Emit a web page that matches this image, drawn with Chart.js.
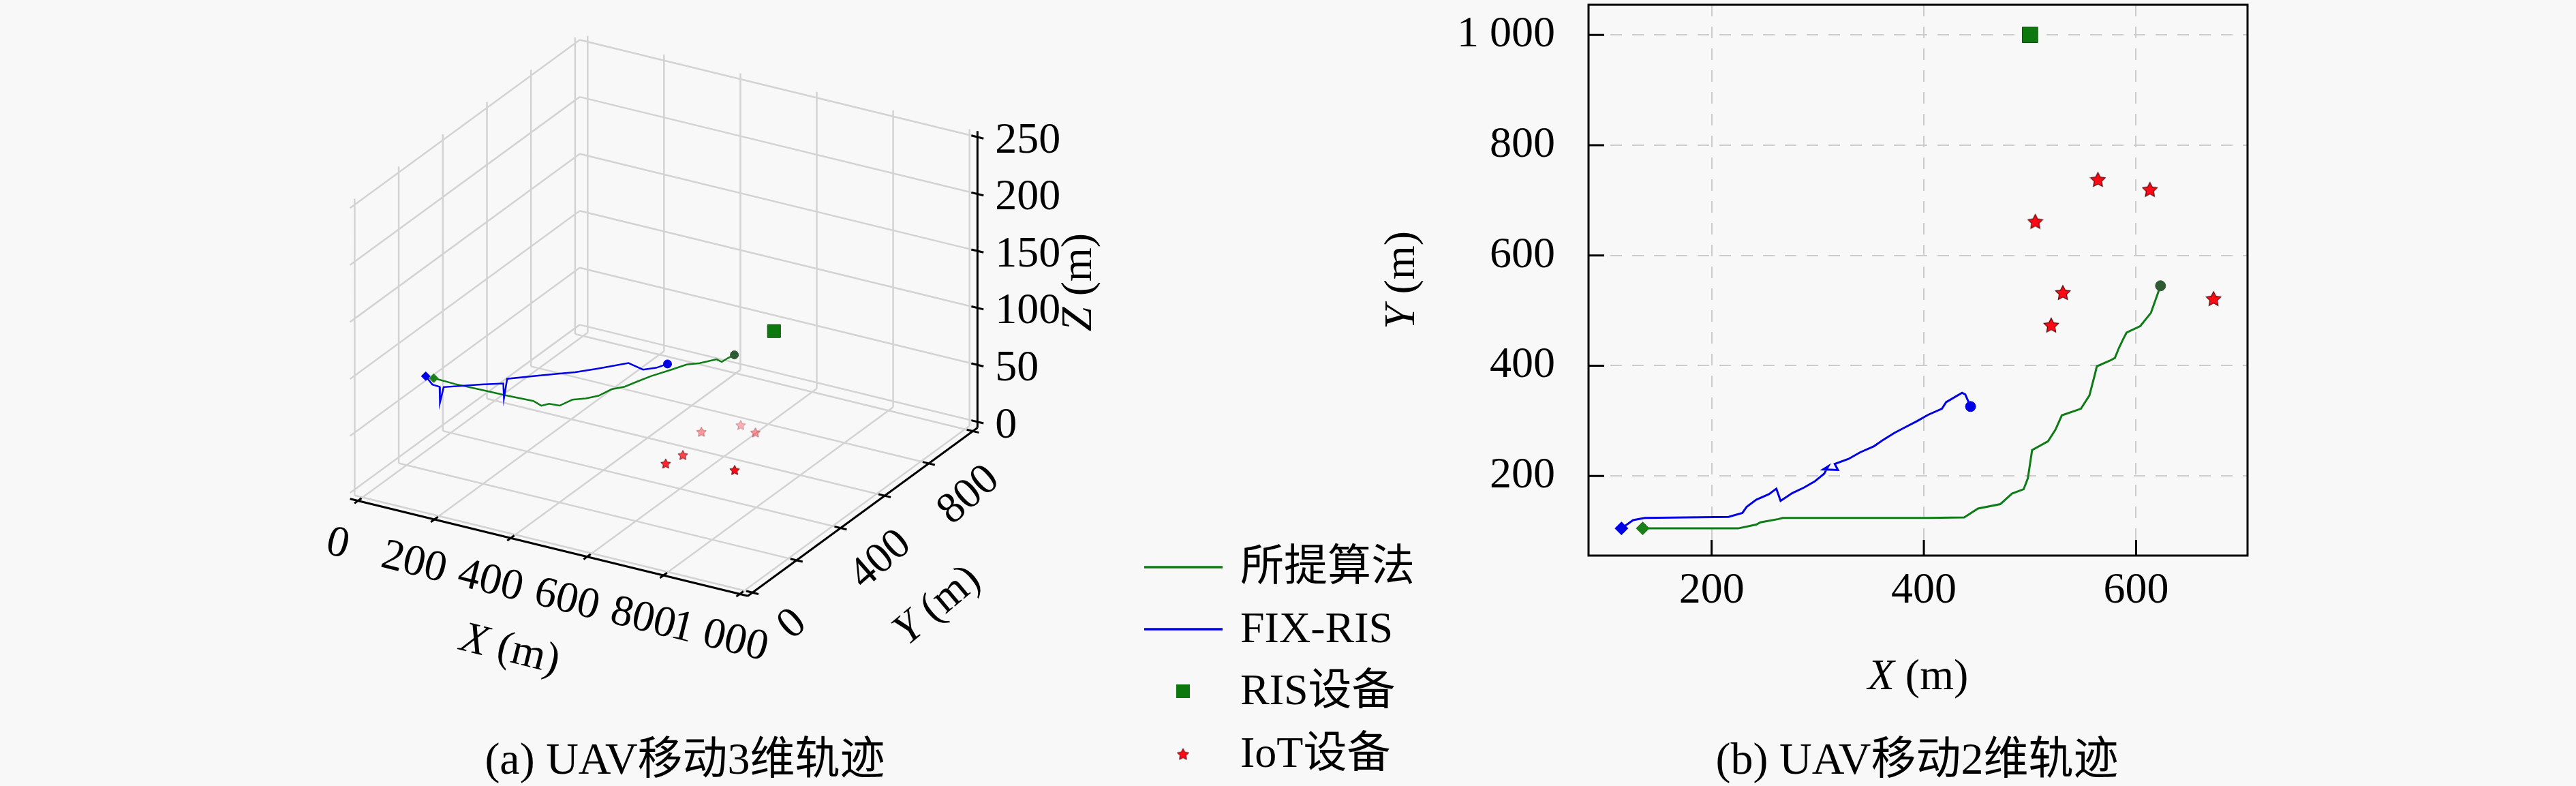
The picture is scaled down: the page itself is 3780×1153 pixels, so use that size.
<!DOCTYPE html>
<html lang="zh">
<head>
<meta charset="utf-8">
<title>UAV trajectories</title>
<script src="https://cdn.jsdelivr.net/npm/chart.js@4.4.1/dist/chart.umd.min.js"></script>
<style>
  html, body { margin: 0; padding: 0; background: #f8f8f8; }
  #page { position: relative; width: 3780px; height: 1153px; overflow: hidden; background: #f8f8f8; }
  #chart3d { position: absolute; left: 0; top: 0; }
  #chart2d { position: absolute; left: 1650px; top: 0; }
  .caption { position: absolute; top: 1080px; height: 66px; line-height: 66px; font-size: 66px;
             font-family: "Liberation Serif", "Noto Sans CJK SC", serif; color: #000;
             transform: translateX(-50%); white-space: nowrap; }
</style>
</head>
<body>
<div id="page">
  <canvas id="chart3d" width="1650" height="1153"></canvas>
  <canvas id="chart2d" width="2130" height="1153"></canvas>
  <div class="caption" style="left:1005px">(a) UAV移动3维轨迹</div>
  <div class="caption" style="left:2813px">(b) UAV移动2维轨迹</div>
</div>
<script>
// ---------- data (metres) ----------
// (b) 2-D trajectories
const greenX = [135, 225, 242, 246, 263, 267, 404, 438, 451, 472, 483, 494, 498, 502, 517, 524, 530, 548, 556, 561, 563, 575, 580, 584, 588, 591, 604, 614, 623];
const greenY = [105, 105, 112, 116, 122, 124, 124, 125, 141, 149, 168, 176, 196, 247, 263, 284, 310, 322, 346, 383, 399, 409, 414, 433, 449, 460, 472, 496, 545];
const blueX = [115, 126, 137, 216, 229, 233, 242, 254, 261, 265, 276, 287, 297, 306, 310, 305, 319, 316, 329, 340, 353, 362, 372, 383, 394, 404, 417, 421, 436, 439, 444];
const blueY = [105, 120, 124, 126, 133, 144, 157, 167, 177, 155, 169, 179, 190, 204, 218, 212, 211, 222, 231, 243, 254, 266, 278, 289, 300, 311, 322, 334, 351, 348, 326];

// devices
const iotX = [505, 531, 520, 564, 613, 673];
const iotY = [662, 533, 474, 738, 720, 522];
const risX = [500];
const risY = [1000];
const risZ = [40];

// (a) 3-D trajectories
const green3dX = [120, 178, 244, 312, 377, 405, 415, 441, 450, 473, 491, 499, 518, 529, 541, 564, 580, 602, 625, 642, 644, 648];
const green3dY = [115, 112, 115, 117, 122, 109, 127, 130, 172, 193, 220, 265, 292, 331, 370, 424, 465, 486, 523, 517, 543, 564];
const green3dZ = [93, 93, 93, 93, 93, 93, 93, 93, 93, 93, 93, 93, 93, 93, 93, 93, 93, 93, 93, 93, 93, 93];
const blue3dX = [99, 110, 130, 131, 139, 230, 271, 272, 266, 310, 355, 382, 418, 462, 508, 529, 541];
const blue3dY = [115, 126, 124, 124, 127, 139, 169, 170, 195, 237, 279, 303, 347, 406, 392, 415, 446];
const blue3dZ = [93, 85, 85, 71, 85, 93, 93, 80, 93, 93, 93, 93, 93, 93, 93, 93, 93];

// ticks
const xTicks2d = [200, 400, 600];
const yTicks2d = [200, 400, 600, 800, 1000];
const xTicks3d = [0, 200, 400, 600, 800, 1000];
const yTicks3d = [0, 200, 400, 600, 800, 1000];
const yLabels3d = ['0', '', '400', '', '800', ''];
const zTicks3d = [0, 50, 100, 150, 200, 250];

// ---------- styling ----------
const FONT = '"Liberation Serif", "Noto Sans CJK SC", serif';
const FS = 64;
const GREEN = '#0e7c16';
const BLUE = '#0000e6';
const STAR_FILL = '#ff0a14';
const STAR_EDGE = '#5a0008';

const fmt = v => String(v).replace(/\B(?=(\d{3})+(?!\d))/g, ' ');
const zip = (xs, ys) => xs.map((x, i) => ({ x: x, y: ys[i] }));

// five-point star marker as a small canvas
const starCache = {};
function starImage(size, alpha) {
  const key = size + '_' + alpha.toFixed(2);
  if (starCache[key]) return starCache[key];
  const c = document.createElement('canvas');
  c.width = c.height = size;
  const g = c.getContext('2d');
  g.globalAlpha = alpha;
  const cx = size / 2, cy = size / 2 + size * 0.05, R = size * 0.47, r = R * 0.5;
  g.beginPath();
  for (let i = 0; i < 10; i++) {
    const ang = -Math.PI / 2 + i * Math.PI / 5;
    const rr = i % 2 ? r : R;
    g.lineTo(cx + rr * Math.cos(ang), cy + rr * Math.sin(ang));
  }
  g.closePath();
  g.fillStyle = STAR_FILL;
  g.fill();
  g.lineWidth = Math.max(1, size * 0.05);
  g.strokeStyle = STAR_EDGE;
  g.stroke();
  starCache[key] = c;
  return c;
}

// text with italic / upright parts
function drawText(ctx, parts, x, y, angleDeg, align) {
  ctx.save();
  ctx.translate(x, y);
  ctx.rotate(angleDeg * Math.PI / 180);
  ctx.textBaseline = 'middle';
  ctx.textAlign = 'left';
  ctx.fillStyle = '#000';
  const fonts = parts.map(p => (p[1] ? 'italic ' : '') + FS + 'px ' + FONT);
  const widths = parts.map((p, i) => { ctx.font = fonts[i]; return ctx.measureText(p[0]).width; });
  const total = widths.reduce((s, w) => s + w, 0);
  let cx = align === 'left' ? 0 : -total / 2;
  parts.forEach((p, i) => { ctx.font = fonts[i]; ctx.fillText(p[0], cx, 0); cx += widths[i]; });
  ctx.restore();
}

// ---------- 3-D view (orthographic, matplotlib-like) ----------
const VIEW = { elev: 25, azim: -60, aspectZ: 0.7125 };
const LIM = { x: [0, 1000], y: [0, 1000], z: [0, 250] };
const pad = l => (l[1] - l[0]) / 48;
const BX = [LIM.x[0] - pad(LIM.x), LIM.x[1] + pad(LIM.x)];
const BY = [LIM.y[0] - pad(LIM.y), LIM.y[1] + pad(LIM.y)];
const BZ = [LIM.z[0] - pad(LIM.z), LIM.z[1] + pad(LIM.z)];
const el = VIEW.elev * Math.PI / 180, az = VIEW.azim * Math.PI / 180;
const U = [-Math.sin(az), Math.cos(az), 0];
const V = [-Math.sin(el) * Math.cos(az), -Math.sin(el) * Math.sin(az), Math.cos(el)];
const N = [Math.cos(el) * Math.cos(az), Math.cos(el) * Math.sin(az), Math.sin(el)];
const dot = (a, b) => a[0] * b[0] + a[1] * b[1] + a[2] * b[2];

function toView(x, y, z) {
  const d = [
    (x - (BX[0] + BX[1]) / 2) / (BX[1] - BX[0]),
    (y - (BY[0] + BY[1]) / 2) / (BY[1] - BY[0]),
    (z - (BZ[0] + BZ[1]) / 2) / (BZ[1] - BZ[0]) * VIEW.aspectZ
  ];
  return { x: dot(U, d), y: dot(V, d), depth: dot(N, d) };
}
const path3d = (xs, ys, zs) => xs.map((x, i) => { const p = toView(x, ys[i], zs[i]); return { x: p.x, y: p.y }; });
function segments(list) {
  const out = [];
  list.forEach(s => {
    const a = toView(s[0][0], s[0][1], s[0][2]);
    const b = toView(s[1][0], s[1][1], s[1][2]);
    out.push({ x: a.x, y: a.y }, { x: b.x, y: b.y }, { x: null, y: null });
  });
  return out;
}

const gridSegs = [];
xTicks3d.forEach(x => {
  gridSegs.push([[x, BY[0], BZ[0]], [x, BY[1], BZ[0]]]);
  gridSegs.push([[x, BY[1], BZ[0]], [x, BY[1], BZ[1]]]);
});
yTicks3d.forEach(y => {
  gridSegs.push([[BX[0], y, BZ[0]], [BX[1], y, BZ[0]]]);
  gridSegs.push([[BX[0], y, BZ[0]], [BX[0], y, BZ[1]]]);
});
zTicks3d.forEach(z => {
  gridSegs.push([[BX[0], BY[0], z], [BX[0], BY[1], z]]);
  gridSegs.push([[BX[0], BY[1], z], [BX[1], BY[1], z]]);
});

const TK = 16;
const axisSegs = [
  [[BX[0], BY[0], BZ[0]], [BX[1], BY[0], BZ[0]]],
  [[BX[1], BY[0], BZ[0]], [BX[1], BY[1], BZ[0]]],
  [[BX[1], BY[1], BZ[0]], [BX[1], BY[1], BZ[1]]]
];
xTicks3d.forEach(x => axisSegs.push([[x, BY[0] - TK, BZ[0]], [x, BY[0] + TK, BZ[0]]]));
yTicks3d.forEach(y => axisSegs.push([[BX[1] - TK, y, BZ[0]], [BX[1] + TK, y, BZ[0]]]));
zTicks3d.forEach(z => axisSegs.push([[BX[1] - TK, BY[1], z], [BX[1] + TK, BY[1], z]]));

// depth shading of the IoT stars (nearer = more opaque)
const iotDepth = iotX.map((x, i) => toView(x, iotY[i], 0).depth);
const dMin = Math.min(...iotDepth), dMax = Math.max(...iotDepth);
const iotAlpha = iotDepth.map(d => 0.3 + 0.7 * (d - dMin) / (dMax - dMin));

const labels3d = {
  id: 'labels3d',
  afterDatasetsDraw(chart) {
    const ctx = chart.ctx, sx = chart.scales.x, sy = chart.scales.y;
    const px = (x, y, z) => { const v = toView(x, y, z); return [sx.getPixelForValue(v.x), sy.getPixelForValue(v.y)]; };
    xTicks3d.forEach(x => {
      const p = px(x, BY[0], BZ[0]);
      drawText(ctx, [[fmt(x), false]], p[0] - 30, p[1] + 64, 14, 'center');
    });
    yTicks3d.forEach((y, i) => {
      if (!yLabels3d[i]) return;
      const p = px(BX[1], y, BZ[0]);
      drawText(ctx, [[yLabels3d[i], false]], p[0] + 59, p[1] + 47, -41, 'center');
    });
    zTicks3d.forEach(z => {
      const p = px(BX[1], BY[1], z);
      drawText(ctx, [[fmt(z), false]], p[0] + 26, p[1] + 6, 0, 'left');
    });
    const xm = px((LIM.x[0] + LIM.x[1]) / 2, BY[0], BZ[0]);
    drawText(ctx, [['X', true], [' (m)', false]], xm[0] - 57, xm[1] + 151, 14, 'center');
    const ym = px(BX[1], (LIM.y[0] + LIM.y[1]) / 2, BZ[0]);
    drawText(ctx, [['Y', true], [' (m)', false]], ym[0] + 110, ym[1] + 138, -40, 'center');
    const zm = px(BX[1], BY[1], (LIM.z[0] + LIM.z[1]) / 2);
    drawText(ctx, [['Z', true], [' (m)', false]], zm[0] + 150, zm[1] + 4, -90, 'center');
  }
};

new Chart(document.getElementById('chart3d'), {
  type: 'scatter',
  data: {
    datasets: [
      { data: segments(gridSegs), showLine: true, borderColor: '#d3d3d3', borderWidth: 2.5, pointRadius: 0, order: 10 },
      { data: segments(axisSegs), showLine: true, borderColor: '#000', borderWidth: 3, pointRadius: 0, order: 9 },
      { data: path3d(green3dX, green3dY, green3dZ), showLine: true, borderColor: GREEN, borderWidth: 2.5, pointRadius: 0, order: 5 },
      { data: path3d(blue3dX, blue3dY, blue3dZ), showLine: true, borderColor: BLUE, borderWidth: 2.5, pointRadius: 0, order: 4 },
      { data: path3d(iotX, iotY, iotX.map(() => 0)), pointStyle: c => starImage(16, iotAlpha[c.dataIndex]), pointRadius: 8, order: 3 },
      { data: path3d(risX, risY, risZ), pointStyle: 'rect', pointRadius: 13.5, backgroundColor: '#0d780d', borderColor: '#064d06', borderWidth: 1, order: 2 },
      { data: path3d([blue3dX[0]], [blue3dY[0]], [blue3dZ[0]]), pointStyle: 'rectRot', pointRadius: 6.5, backgroundColor: BLUE, borderColor: BLUE, order: 1 },
      { data: path3d([green3dX[0]], [green3dY[0]], [green3dZ[0]]), pointStyle: 'rectRot', pointRadius: 6.5, backgroundColor: '#1b7f1b', borderColor: '#1b7f1b', order: 1 },
      { data: path3d([blue3dX[blue3dX.length - 1]], [blue3dY[blue3dY.length - 1]], [blue3dZ[blue3dZ.length - 1]]), pointRadius: 6, backgroundColor: BLUE, borderColor: BLUE, order: 1 },
      { data: path3d([green3dX[green3dX.length - 1]], [green3dY[green3dY.length - 1]], [green3dZ[green3dZ.length - 1]]), pointRadius: 6, backgroundColor: '#2e5b34', borderColor: '#2e5b34', order: 1 }
    ]
  },
  options: {
    responsive: false,
    animation: false,
    layout: { padding: 0, autoPadding: false },
    scales: {
      x: { type: 'linear', display: false, min: -1.4451, max: 1.0030 },
      y: { type: 'linear', display: false, min: -1.0252, max: 0.6855 }
    },
    plugins: { legend: { display: false }, tooltip: { enabled: false } }
  },
  plugins: [labels3d]
});

// ---------- 2-D chart ----------
const frame2d = {
  id: 'frame2d',
  afterDatasetsDraw(chart) {
    const { ctx, chartArea: a } = chart;
    const sx = chart.scales.x, sy = chart.scales.y;
    ctx.save();
    ctx.strokeStyle = '#000';
    ctx.lineWidth = 3;
    ctx.strokeRect(a.left, a.top, a.right - a.left, a.bottom - a.top);
    ctx.beginPath();
    xTicks2d.forEach(v => { const x = sx.getPixelForValue(v); ctx.moveTo(x, a.bottom); ctx.lineTo(x, a.bottom - 23); });
    yTicks2d.forEach(v => { const y = sy.getPixelForValue(v); ctx.moveTo(a.left, y); ctx.lineTo(a.left + 23, y); });
    ctx.stroke();
    ctx.restore();
    drawText(ctx, [['X', true], [' (m)', false]], (a.left + a.right) / 2, 994, 0, 'center');
    drawText(ctx, [['Y', true], [' (m)', false]], 408, (a.top + a.bottom) / 2, -90, 'center');
  }
};

const legendItems = [
  { text: '所提算法', kind: 'line', color: GREEN, y: 832 },
  { text: 'FIX-RIS', kind: 'line', color: BLUE, y: 923 },
  { text: 'RIS设备', kind: 'square', color: '#0d780d', y: 1014 },
  { text: 'IoT设备', kind: 'star', y: 1106 }
];
const legend2d = {
  id: 'legend2d',
  afterDraw(chart) {
    const ctx = chart.ctx;
    legendItems.forEach(it => {
      ctx.save();
      if (it.kind === 'line') {
        ctx.strokeStyle = it.color; ctx.lineWidth = 3.5;
        ctx.beginPath(); ctx.moveTo(29, it.y); ctx.lineTo(144, it.y); ctx.stroke();
      } else if (it.kind === 'square') {
        ctx.fillStyle = it.color; ctx.fillRect(76, it.y - 10, 20, 20);
      } else {
        const img = starImage(19, 1);
        ctx.drawImage(img, 86 - img.width / 2, it.y - img.height / 2);
      }
      ctx.restore();
      drawText(ctx, [[it.text, false]], 170, it.y + 2, 0, 'left');
    });
  }
};

const noPad = s => { s.paddingTop = 0; s.paddingBottom = 0; s.paddingLeft = 0; s.paddingRight = 0; };

new Chart(document.getElementById('chart2d'), {
  type: 'scatter',
  data: {
    datasets: [
      { data: zip(greenX, greenY), showLine: true, borderColor: GREEN, borderWidth: 3, pointRadius: 0, order: 5 },
      { data: zip(blueX, blueY), showLine: true, borderColor: BLUE, borderWidth: 3, pointRadius: 0, order: 4 },
      { data: zip(iotX, iotY), pointStyle: starImage(24, 1), pointRadius: 12, order: 3 },
      { data: zip(risX, risY), pointStyle: 'rect', pointRadius: 16, backgroundColor: '#0d780d', borderColor: '#064d06', borderWidth: 1, order: 2 },
      { data: zip([blueX[0]], [blueY[0]]), pointStyle: 'rectRot', pointRadius: 9.5, backgroundColor: BLUE, borderColor: BLUE, order: 1 },
      { data: zip([greenX[0]], [greenY[0]]), pointStyle: 'rectRot', pointRadius: 9.5, backgroundColor: '#1b7f1b', borderColor: '#1b7f1b', order: 1 },
      { data: zip([blueX[blueX.length - 1]], [blueY[blueY.length - 1]]), pointRadius: 7.5, backgroundColor: BLUE, borderColor: BLUE, order: 1 },
      { data: zip([greenX[greenX.length - 1]], [greenY[greenY.length - 1]]), pointRadius: 7.5, backgroundColor: '#2e5b34', borderColor: '#2e5b34', order: 1 }
    ]
  },
  options: {
    responsive: false,
    animation: false,
    layout: { padding: { left: 0, right: 482, top: 7, bottom: 0 }, autoPadding: false },
    plugins: { legend: { display: false }, tooltip: { enabled: false } },
    scales: {
      x: {
        type: 'linear', min: 84, max: 705,
        afterFit: s => { s.height = 338; noPad(s); },
        afterBuildTicks: s => { s.ticks = xTicks2d.map(v => ({ value: v })); },
        ticks: { font: { family: FONT, size: FS }, color: '#000', padding: 14, maxRotation: 0, autoSkip: false, callback: v => fmt(v) },
        grid: { color: '#cccccc', lineWidth: 2, drawTicks: false },
        border: { display: false, dash: [17, 15] }
      },
      y: {
        type: 'linear', min: 55.7, max: 1054.6,
        afterFit: s => { s.width = 681; noPad(s); },
        afterBuildTicks: s => { s.ticks = yTicks2d.map(v => ({ value: v })); },
        ticks: { font: { family: FONT, size: FS }, color: '#000', padding: 49, autoSkip: false, callback: v => fmt(v) },
        grid: { color: '#cccccc', lineWidth: 2, drawTicks: false },
        border: { display: false, dash: [17, 15] }
      }
    }
  },
  plugins: [frame2d, legend2d]
});
</script>
</body>
</html>
